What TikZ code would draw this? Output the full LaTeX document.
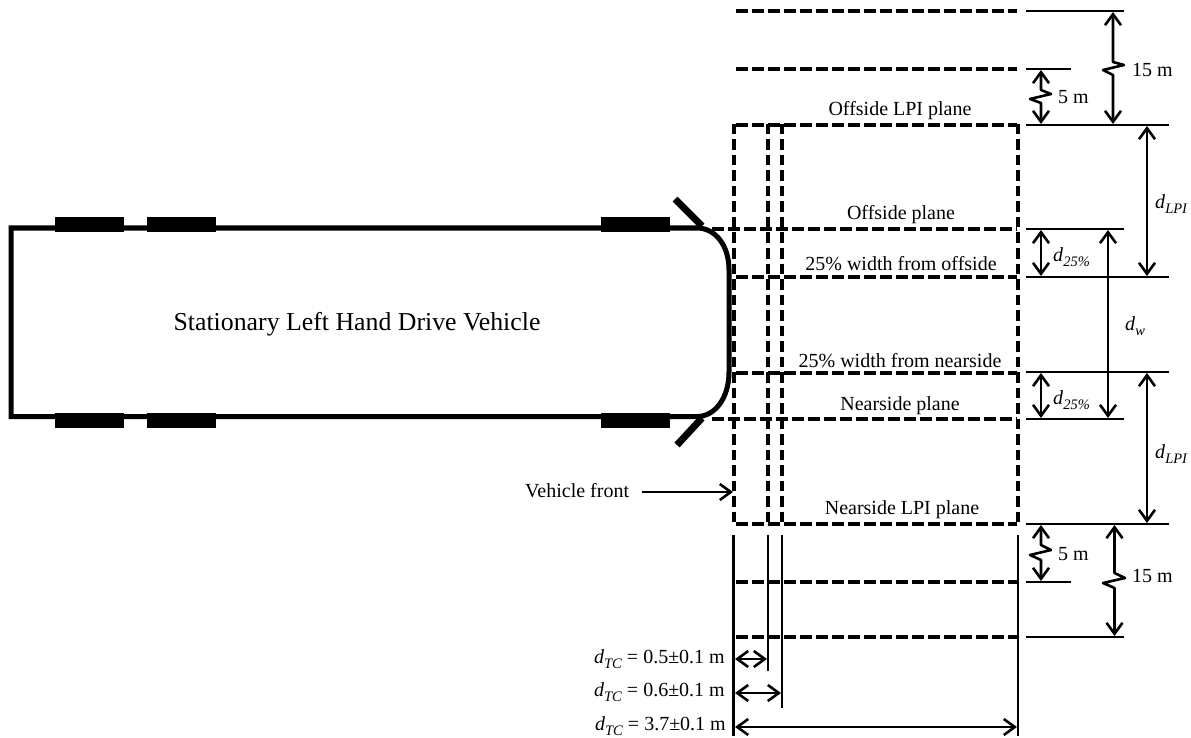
\documentclass[tikz,border=0pt]{standalone}
\usepackage{fontspec}
\setmainfont{Liberation Serif}
\usetikzlibrary{arrows.meta}
\newcommand{\dsub}[1]{\textit{d}\raisebox{-0.28em}{\fontsize{14.5}{15}\selectfont\textit{#1}}}
\tikzset{
  hull/.style={line width=5pt,line join=miter},
  wheel/.style={fill=black,draw=none},
  mirror/.style={line width=7pt},
  hdash/.style={line width=3.8pt,dash pattern=on 11.5pt off 4.5pt},
  vdash/.style={line width=3.8pt,dash pattern=on 10.5pt off 5pt},
  rule/.style={line width=2.6pt},
  barb/.tip={Straight Barb[length=11pt,width=16pt,line width=2.6pt]},
  dim/.style={line width=2.6pt,line join=round,barb-barb},
  lead/.style={line width=2.6pt,-barb},
  lab/.style={font=\fontsize{20}{22}\selectfont,inner sep=0pt},
  lableft/.style={lab,anchor=west},
  labright/.style={lab,anchor=east},
}
\begin{document}
\begin{tikzpicture}[x=1pt,y=-1pt]
\useasboundingbox (0,0) rectangle (1191,738);
% hull
\draw[hull] (697,228) -- (11,228) -- (11,416.5) -- (697,416.5) .. controls (715,416.5) and (729,398) .. (729,372) -- (729,270) .. controls (729,245) and (715,228) .. (697,228);
\foreach \a/\b in {55/124,147/216,601/670}{
  \fill[wheel] (\a,217) rectangle (\b,232);
  \fill[wheel] (\a,413) rectangle (\b,428);
}
\draw[mirror] (675,199) -- (702,226);
\draw[mirror] (677,445) -- (702,418);
% dashed planes
\foreach \yy/\st in {11/736,69/736,125/736,229/712,277/736,373/736,419/712,524/736,582/736,637/736}{
  \draw[hdash] (\st,\yy) -- (1017,\yy);
}
\foreach \xx in {734,768,782,1018}{
  \draw[vdash] (\xx,124) -- (\xx,524);
}
% named levels
\coordinate (yA) at (1026,11);
\coordinate (yB) at (1026,69);
\coordinate (yC) at (1026,125);
\coordinate (yD) at (1026,229);
\coordinate (yE) at (1026,277);
\coordinate (yF) at (1026,372);
\coordinate (yG) at (1026,419);
\coordinate (yH) at (1026,524);
\coordinate (yI) at (1026,582);
\coordinate (yJ) at (1026,637);
\draw[rule] (yA) -- ++(98,0);
\draw[rule] (yB) -- ++(45,0);
\draw[rule] (yC) -- ++(143,0);
\draw[rule] (yD) -- ++(98,0);
\draw[rule] (yE) -- ++(143,0);
\draw[rule] (yF) -- ++(143,0);
\draw[rule] (yG) -- ++(98,0);
\draw[rule] (yH) -- ++(143,0);
\draw[rule] (yI) -- ++(45,0);
\draw[rule] (yJ) -- ++(98,0);
% break dims
\draw[dim] (1113,12) -- (1113,62) -- (1124,65) -- (1103,70) -- (1113,75) -- (1113,124);
\draw[dim] (1041,70) -- (1041,90) -- (1051,94) -- (1030,99) -- (1041,103) -- (1041,124);
\draw[dim] (1041,525) -- (1041,545) -- (1051,550) -- (1030,555) -- (1041,560) -- (1041,581);
\draw[dim] (1114.5,525) -- (1114.5,573) -- (1125,578) -- (1103,583) -- (1114.5,588) -- (1114.5,636);
% plain dims
\draw[dim] (1041,230) -- (1041,276);
\draw[dim] (1041,373) -- (1041,418);
\draw[dim] (1108,230) -- (1108,418);
\draw[dim] (1147,126) -- (1147,276);
\draw[dim] (1147,373) -- (1147,523);
% bottom
\coordinate (f0) at (733.5,535);
\coordinate (f1) at (768,535);
\coordinate (f2) at (782,535);
\coordinate (f3) at (1018,535);
\draw[rule] (f0) -- (733.5,736);
\draw[rule] (f1) -- (768,671);
\draw[rule] (f2) -- (782,708);
\draw[rule] (f3) -- (1018,736);
\draw[dim] (735,659) -- (767,659);
\draw[dim] (735,693) -- (781,693);
\draw[dim] (735,727) -- (1017,727);
\node[lableft] (vf) at (525,491) {Vehicle front};
\draw[lead] (642,492) -- (733,492);
% labels
\node[font=\fontsize{25.8}{28}\selectfont,inner sep=0pt] (veh) at (357,324) {Stationary Left Hand Drive Vehicle};
\node[lab] (l1) at (900,111) {Offside LPI plane};
\node[lab] (l2) at (901,215) {Offside plane};
\node[lab] (l3) at (901,264) {25\% width from offside};
\node[lab] (l4) at (900,361) {25\% width from nearside};
\node[lab] (l5) at (900,406) {Nearside plane};
\node[lab] (l6) at (902,510) {Nearside LPI plane};
\node[lableft] (m1) at (1132,70) {15 m};
\node[lableft] (m2) at (1058,97) {5 m};
\node[lableft] (m3) at (1058,554) {5 m};
\node[lableft] (m4) at (1132,576) {15 m};
\node[lableft] (d1) at (1155,204) {\dsub{LPI}};
\node[lableft] (d2) at (1053,257) {\dsub{25\%}};
\node[lableft] (d3) at (1125,326) {\dsub{w}};
\node[lableft] (d4) at (1053,400) {\dsub{25\%}};
\node[lableft] (d5) at (1155,454) {\dsub{LPI}};
\node[labright] (t1) at (725,659) {\dsub{TC} = 0.5±0.1 m};
\node[labright] (t2) at (725,692) {\dsub{TC} = 0.6±0.1 m};
\node[labright] (t3) at (726,726) {\dsub{TC} = 3.7±0.1 m};
\end{tikzpicture}
\end{document}
